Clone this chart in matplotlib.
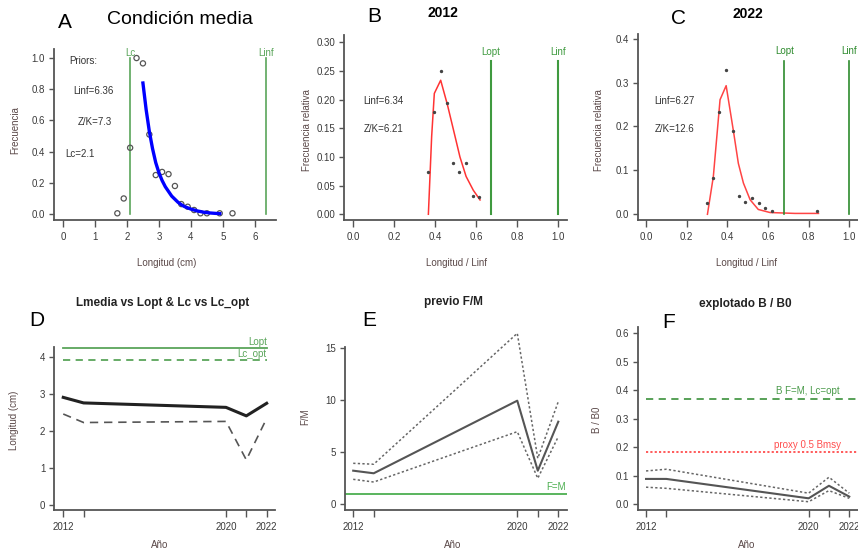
import matplotlib
matplotlib.use("Agg")
import matplotlib.pyplot as plt

plt.rcParams['font.family'] = ['Liberation Sans', 'DejaVu Sans']

# --- Panel A: condicion media ---
a_len = [1.7, 1.9, 2.1, 2.3, 2.5, 2.7, 2.9, 3.1, 3.3, 3.5, 3.7, 3.9, 4.1, 4.3, 4.5, 4.9, 5.3]
a_freq = [0.005, 0.10, 0.425, 1.0, 0.966, 0.51, 0.25, 0.27, 0.256, 0.18, 0.064, 0.047, 0.026, 0.005, 0.005, 0.005, 0.005]
a_fit_x = [2.5, 2.6, 2.7, 2.8, 2.9, 3.0, 3.1, 3.2, 3.3, 3.4, 3.5, 3.6, 3.7, 3.8, 3.9, 4.0, 4.2, 4.4, 4.6, 4.8, 4.9]
a_fit_y = [0.84, 0.67, 0.53, 0.42, 0.33, 0.265, 0.215, 0.175, 0.145, 0.115, 0.095, 0.075, 0.06, 0.048, 0.04, 0.032, 0.02, 0.012, 0.007, 0.004, 0.003]
a_lc = 2.1
a_linf = 6.36

# --- Panel B: 2012 ---
b_fit_x = [0.366, 0.382, 0.395, 0.426, 0.459, 0.496, 0.52, 0.55, 0.585, 0.618]
b_fit_y = [0.0, 0.136, 0.211, 0.234, 0.191, 0.136, 0.10, 0.066, 0.042, 0.025]
b_obs_x = [0.363, 0.394, 0.426, 0.459, 0.488, 0.517, 0.55, 0.582, 0.615]
b_obs_y = [0.0745, 0.178, 0.251, 0.194, 0.089, 0.0745, 0.089, 0.032, 0.031]
b_lopt = 0.672

# --- Panel C: 2022 ---
c_fit_x = [0.302, 0.331, 0.364, 0.394, 0.43, 0.454, 0.479, 0.512, 0.552, 0.61, 0.733, 0.848]
c_fit_y = [0.0, 0.086, 0.261, 0.293, 0.189, 0.116, 0.071, 0.033, 0.011, 0.004, 0.002, 0.002]
c_obs_x = [0.299, 0.331, 0.361, 0.394, 0.43, 0.459, 0.488, 0.52, 0.556, 0.587, 0.618, 0.843]
c_obs_y = [0.025, 0.082, 0.234, 0.328, 0.189, 0.042, 0.029, 0.036, 0.025, 0.014, 0.0075, 0.0075]
c_lopt = 0.68

# --- Series por año ---
years = [2012, 2013, 2020, 2021, 2022]
year_labels = ['2012', '', '2020', '', '2022']
lmedia = [2.91, 2.76, 2.64, 2.41, 2.75]
lc_year = [2.46, 2.23, 2.26, 1.22, 2.34]
lopt = 4.235
lc_opt = 3.92

fm = [3.23, 2.98, 9.96, 3.23, 7.94]
fm_up = [3.94, 3.85, 16.44, 4.42, 9.87]
fm_lo = [2.40, 2.14, 6.98, 2.50, 6.50]

bb0 = [0.089, 0.089, 0.021, 0.065, 0.027]
bb0_up = [0.117, 0.123, 0.039, 0.095, 0.039]
bb0_lo = [0.060, 0.056, 0.009, 0.048, 0.021]
b_fm_lcopt = 0.369
proxy_bmsy = 0.185

W, H = 858, 558
fig = plt.figure(figsize=(W / 100, H / 100), dpi=100)

tick_col = '#3a3a3a'
lab_col = '#5a4848'
green = '#5aa55a'
dgreen = '#2e8b2e'


def px_axes(l, t, r, b):
    ax = fig.add_axes([l / W, 1 - b / H, (r - l) / W, (b - t) / H])
    for s in ['top', 'right']:
        ax.spines[s].set_visible(False)
    for s in ['left', 'bottom']:
        ax.spines[s].set_color('#555555')
        ax.spines[s].set_linewidth(1.3)
    ax.tick_params(axis='x', length=5, width=1, color='#555555', labelsize=7, labelcolor=tick_col, pad=4)
    ax.tick_params(axis='y', length=3.5, width=1, color='#555555', labelsize=7, labelcolor=tick_col, pad=3)
    return ax


def labels(ax, xl, xpos, yl, ypos):
    ax.set_xlabel(xl, fontsize=7, color=lab_col)
    ax.xaxis.set_label_coords(xpos[0] / W, 1 - xpos[1] / H, transform=fig.transFigure)
    ax.xaxis.label.set_va('center')
    ax.set_ylabel(yl, fontsize=7, color=lab_col)
    ax.yaxis.set_label_coords(ypos[0] / W, 1 - ypos[1] / H, transform=fig.transFigure)
    ax.yaxis.label.set_va('center')


def ftext(x, y, s, **kw):
    fig.text(x / W, 1 - y / H, s, ha='center', va='center', **kw)


# Panel A
ax = px_axes(54, 49, 276, 220)
ax.set_xlim(-0.28, 6.66)
ax.set_ylim(-0.038, 1.058)
ax.scatter(a_len, a_freq, s=14, facecolors='none', edgecolors='#555555', linewidths=0.9, zorder=3)
ax.plot(a_fit_x, a_fit_y, color='#0000ff', lw=2.4, zorder=4)
ax.plot([a_lc, a_lc], [0, 1.0], color=green, lw=1.2)
ax.plot([a_linf, a_linf], [0, 1.0], color=green, lw=1.2)
ax.text(a_lc, 1.035, 'Lc', color=green, fontsize=7, ha='center', va='center')
ax.text(a_linf, 1.035, 'Linf', color=green, fontsize=7, ha='center', va='center')
ax.text(0.62, 0.98, 'Priors:', fontsize=7, color='#333333', ha='center', va='center')
ax.text(0.94, 0.79, 'Linf=6.36', fontsize=7, color='#333333', ha='center', va='center')
ax.text(1.0, 0.59, 'Z/K=7.3', fontsize=7, color='#333333', ha='center', va='center')
ax.text(0.53, 0.385, 'Lc=2.1', fontsize=7, color='#333333', ha='center', va='center')
ax.set_xticks(range(0, 7))
ax.set_yticks([0, 0.2, 0.4, 0.6, 0.8, 1.0])
ax.set_yticklabels(['0.0', '0.2', '0.4', '0.6', '0.8', '1.0'])
labels(ax, 'Longitud (cm)', (167, 263), 'Frecuencia', (15, 130))
ftext(65, 23, 'A', fontsize=15)
ftext(180, 19, 'Condición media', fontsize=14)

# Panel B
ax = px_axes(344.3, 35, 567, 220)
ax.set_xlim(-0.044, 1.042)
ax.set_ylim(-0.01, 0.313)
ax.plot(b_fit_x, b_fit_y, color='#ff3333', lw=1.1)
ax.scatter(b_obs_x, b_obs_y, s=2, color='#444444', zorder=3)
for xv, nm in [(b_lopt, 'Lopt'), (1.0, 'Linf')]:
    ax.plot([xv, xv], [0, 0.267], color='#3f9a3f', lw=1.5)
    ax.text(xv, 0.284, nm, color='#3f9a3f', fontsize=7, ha='center', va='center')
ax.text(0.147, 0.198, 'Linf=6.34', fontsize=7, color='#333333', ha='center', va='center')
ax.text(0.147, 0.149, 'Z/K=6.21', fontsize=7, color='#333333', ha='center', va='center')
ax.set_xticks([0, 0.2, 0.4, 0.6, 0.8, 1.0])
ax.set_xticklabels(['0.0', '0.2', '0.4', '0.6', '0.8', '1.0'])
ax.set_yticks([0, 0.05, 0.10, 0.15, 0.20, 0.25, 0.30])
ax.set_yticklabels(['0.00', '0.05', '0.10', '0.15', '0.20', '0.25', '0.30'])
labels(ax, 'Longitud / Linf', (457, 263), 'Frecuencia relativa', (307, 130))
ftext(374, 16, 'B', fontsize=15)
ftext(443, 13, '2012', fontsize=10, fontweight='bold')

# Panel C
ax = px_axes(637.7, 34.3, 857.5, 220)
ax.set_xlim(-0.041, 1.04)
ax.set_ylim(-0.013, 0.41)
ax.plot(c_fit_x, c_fit_y, color='#ff4444', lw=1.1)
ax.scatter(c_obs_x, c_obs_y, s=2, color='#444444', zorder=3)
for xv, nm in [(c_lopt, 'Lopt'), (1.0, 'Linf')]:
    ax.plot([xv, xv], [0, 0.35], color=dgreen, lw=1.2)
    ax.text(xv, 0.371, nm, color=dgreen, fontsize=7, ha='center', va='center')
ax.text(0.14, 0.259, 'Linf=6.27', fontsize=7, color='#333333', ha='center', va='center')
ax.text(0.14, 0.194, 'Z/K=12.6', fontsize=7, color='#333333', ha='center', va='center')
ax.set_xticks([0, 0.2, 0.4, 0.6, 0.8, 1.0])
ax.set_xticklabels(['0.0', '0.2', '0.4', '0.6', '0.8', '1.0'])
ax.set_yticks([0, 0.1, 0.2, 0.3, 0.4])
ax.set_yticklabels(['0.0', '0.1', '0.2', '0.3', '0.4'])
labels(ax, 'Longitud / Linf', (747, 263), 'Frecuencia relativa', (599, 130))
ftext(679, 19, 'C', fontsize=15)
ftext(748, 14, '2022', fontsize=10, fontweight='bold')

# Panel D
ax = px_axes(54.3, 346.7, 275, 510)
ax.set_xlim(2011.56, 2022.41)
ax.set_ylim(-0.135, 4.28)
ax.plot([2012, 2022], [lopt, lopt], color=green, lw=1.3, clip_on=False)
ax.plot([2012, 2022], [lc_opt, lc_opt], color=green, lw=1.3, ls=(0, (4, 3)), clip_on=False)
ax.text(2022, 4.41, 'Lopt', color=green, fontsize=7, ha='right', va='center')
ax.text(2022, 4.08, 'Lc_opt', color=green, fontsize=7, ha='right', va='center')
ax.plot(years, lmedia, color='#222222', lw=2.2)
ax.plot(years, lc_year, color='#555555', lw=1.2, ls=(0, (5, 3.5)))
ax.set_xticks(years)
ax.set_xticklabels(year_labels)
ax.set_yticks(range(0, 5))
labels(ax, 'Año', (160, 545), 'Longitud (cm)', (14, 420))
ftext(37, 320, 'D', fontsize=15)
ftext(163, 303, 'Lmedia vs Lopt & Lc vs Lc_opt', fontsize=8.5, fontweight='bold', color='#222222')

# Panel E
ax = px_axes(345, 346.7, 566.7, 510)
ax.set_xlim(2011.6, 2022.41)
ax.set_ylim(-0.55, 15.15)
ax.axhline(1.0, color='#4caf50', lw=1.3)
ax.text(2021.9, 1.7, 'F=M', color='#4caf50', fontsize=7, ha='center', va='center')
ax.plot(years, fm, color='#555555', lw=1.5)
ax.plot(years, fm_up, color='#666666', lw=1.1, ls=(0, (1.5, 1.5)), clip_on=False)
ax.plot(years, fm_lo, color='#666666', lw=1.1, ls=(0, (1.5, 1.5)))
ax.set_xticks(years)
ax.set_xticklabels(year_labels)
ax.set_yticks([0, 5, 10, 15])
labels(ax, 'Año', (453, 545), 'F/M', (305, 417))
ftext(369, 320, 'E', fontsize=15)
ftext(453, 302, 'previo F/M', fontsize=8.5, fontweight='bold', color='#222222')

# Panel F
ax = px_axes(637.7, 326.7, 857.6, 510)
ax.set_xlim(2011.59, 2022.41)
ax.set_ylim(-0.02, 0.623)
ax.plot([2012, 2022.41], [b_fm_lcopt, b_fm_lcopt], color='#4a9a4a', lw=1.3, ls=(0, (4, 3)))
ax.plot([2012, 2022.41], [proxy_bmsy, proxy_bmsy], color='#ff4d4d', lw=1.3, ls=(0, (1.2, 1.2)))
ax.text(2019.95, 0.396, 'B F=M, Lc=opt', color='#4a9a4a', fontsize=7, ha='center', va='center')
ax.text(2019.95, 0.208, 'proxy 0.5 Bmsy', color='#ff4d4d', fontsize=7, ha='center', va='center')
ax.plot(years, bb0, color='#555555', lw=1.5)
ax.plot(years, bb0_up, color='#666666', lw=1.1, ls=(0, (1.5, 1.5)))
ax.plot(years, bb0_lo, color='#666666', lw=1.1, ls=(0, (1.5, 1.5)))
ax.set_xticks(years)
ax.set_xticklabels(year_labels)
ax.set_yticks([0, 0.1, 0.2, 0.3, 0.4, 0.5, 0.6])
ax.set_yticklabels(['0.0', '0.1', '0.2', '0.3', '0.4', '0.5', '0.6'])
labels(ax, 'Año', (747, 545), 'B / B0', (597, 420))
ftext(669, 322, 'F', fontsize=15)
ftext(745, 304, 'explotado B / B0', fontsize=8.5, fontweight='bold', color='#222222')

fig.savefig('out.png', dpi=100)
